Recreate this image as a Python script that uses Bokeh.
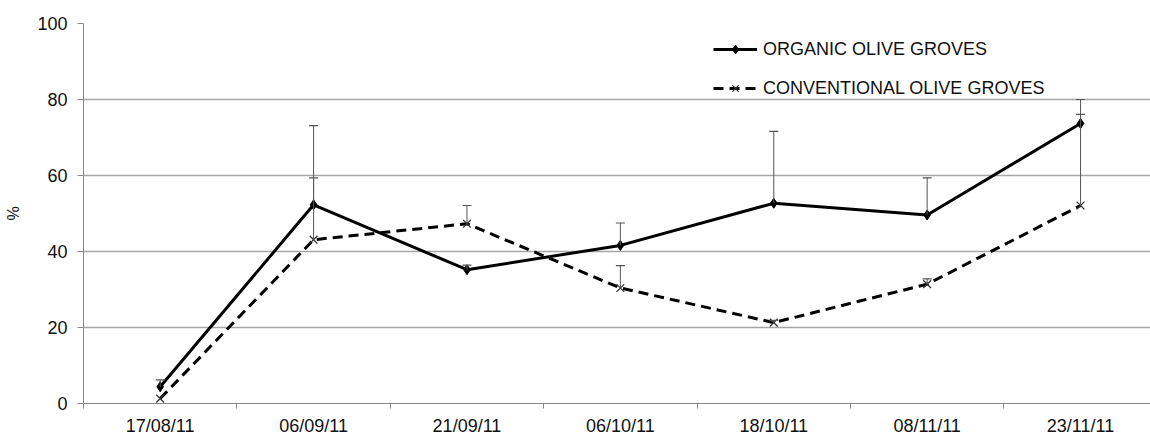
from bokeh.plotting import figure
from bokeh.models import (ColumnDataSource, FixedTicker, Whisker, TeeHead,
                          Legend, LegendItem, Range1d)
from bokeh.embed import file_html
from bokeh.resources import INLINE

# ---- data ----
dates = ["17/08/11", "06/09/11", "21/09/11", "06/10/11", "18/10/11", "08/11/11", "23/11/11"]
organic = [4.4, 52.3, 35.2, 41.6, 52.7, 49.6, 73.7]
organic_err = [1.8, 20.8, 1.2, 5.9, 18.9, 9.8, 6.3]
conventional = [1.3, 43.1, 47.3, 30.4, 21.3, 31.4, 52.1]
conventional_err = [0.0, 16.3, 4.8, 5.9, 0.6, 1.4, 24.0]
y_ticks = [0, 20, 40, 60, 80, 100]

FONT = "Liberation Sans"
xs = list(range(len(dates)))

p = figure(width=1150, height=439, output_backend="svg", toolbar_location=None,
           x_range=Range1d(-0.5, 6.456), y_range=Range1d(0, 100),
           min_border_left=83, min_border_right=0, min_border_top=23,
           min_border_bottom=36)
p.outline_line_color = None
p.background_fill_color = "white"
p.border_fill_color = "white"

# x axis: labels under each category, tick marks between categories
p.xaxis.ticker = FixedTicker(ticks=xs, minor_ticks=[i - 0.5 for i in range(len(dates) + 1)])
p.xaxis.major_label_overrides = {i: d for i, d in enumerate(dates)}
p.xaxis.major_label_text_font = FONT
p.xaxis.major_label_text_font_size = "18px"
p.xaxis.major_label_text_color = "#111111"
p.xaxis.major_label_standoff = 7
p.xaxis.major_tick_out = 0
p.xaxis.major_tick_in = 0
p.xaxis.minor_tick_out = 5
p.xaxis.minor_tick_in = 0
p.xaxis.minor_tick_line_color = "#888888"
p.xaxis.axis_line_color = "#888888"

p.yaxis.ticker = FixedTicker(ticks=y_ticks, minor_ticks=[])
p.yaxis.axis_line_color = "#888888"
p.yaxis.major_tick_line_color = "#888888"
p.yaxis.major_tick_out = 6
p.yaxis.major_tick_in = 0
p.yaxis.major_label_standoff = 10
p.yaxis.major_label_text_font = FONT
p.yaxis.major_label_text_font_size = "18px"
p.yaxis.major_label_text_color = "#111111"
p.yaxis.axis_label = "%"
p.yaxis.axis_label_text_font = FONT
p.yaxis.axis_label_text_font_size = "16px"
p.yaxis.axis_label_text_font_style = "normal"
p.yaxis.axis_label_text_color = "#111111"
p.yaxis.axis_label_standoff = 12

p.xgrid.grid_line_color = None
p.ygrid.ticker = FixedTicker(ticks=y_ticks)
p.ygrid.grid_line_color = "#a6a6a6"
p.ygrid.grid_line_width = 1.3

# error bars (upper only)
def whisker(vals, errs):
    xx = [x for x, e in zip(xs, errs) if e > 0]
    lo = [v for v, e in zip(vals, errs) if e > 0]
    up = [v + e for v, e in zip(vals, errs) if e > 0]
    src = ColumnDataSource(dict(x=xx, lower=lo, upper=up))
    w = Whisker(base="x", lower="lower", upper="upper", source=src,
                line_color="#555555", line_width=1,
                upper_head=TeeHead(size=9, line_color="#555555", line_width=1.2),
                lower_head=None, level="glyph")
    p.add_layout(w)

whisker(organic, organic_err)
whisker(conventional, conventional_err)

src_o = ColumnDataSource(dict(x=xs, y=organic))
src_c = ColumnDataSource(dict(x=xs, y=conventional))

lc = p.line("x", "y", source=src_c, line_color="black", line_width=3, line_dash="10 6")
mc = p.scatter("x", "y", source=src_c, marker="x", size=11, line_color="#333333", line_width=1.3)
lo = p.line("x", "y", source=src_o, line_color="black", line_width=3)
mo = p.scatter("x", "y", source=src_o, marker="diamond", size=10, fill_color="black", line_color="black")

legend = Legend(items=[LegendItem(label="ORGANIC OLIVE GROVES", renderers=[lo, mo]),
                       LegendItem(label="CONVENTIONAL OLIVE GROVES", renderers=[lc, mc])],
                location=(630, 304), orientation="vertical",
                glyph_width=44, glyph_height=22, label_height=22, label_standoff=6,
                spacing=17, padding=0, margin=0,
                border_line_color=None, background_fill_alpha=0,
                label_text_font=FONT, label_text_font_size="18px",
                label_text_color="#111111")
p.add_layout(legend, "center")

open("out.html", "w").write(file_html(p, INLINE))
